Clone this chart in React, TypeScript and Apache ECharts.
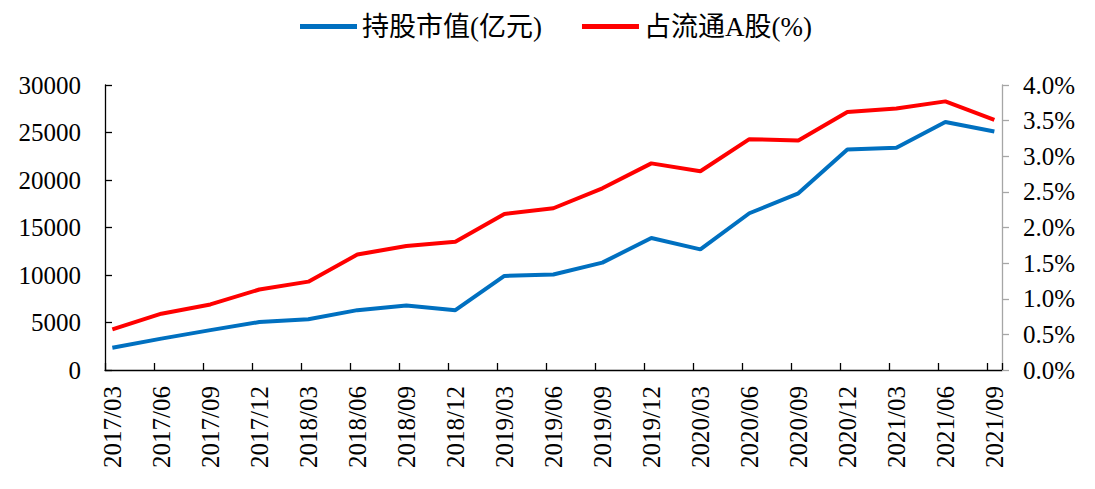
import React, { useEffect, useRef } from "react";
import * as echarts from "echarts";

const categories = [
  "2017/03", "2017/06", "2017/09", "2017/12",
  "2018/03", "2018/06", "2018/09", "2018/12",
  "2019/03", "2019/06", "2019/09", "2019/12",
  "2020/03", "2020/06", "2020/09", "2020/12",
  "2021/03", "2021/06", "2021/09",
];
const marketValue = [
  2350, 3300, 4200, 5050, 5350, 6300, 6800, 6300, 9900, 10050,
  11300, 13900, 12700, 16500, 18600, 23200, 23400, 26100, 25100,
];
const sharePct = [
  0.57, 0.79, 0.92, 1.13, 1.24, 1.62, 1.74, 1.8, 2.19, 2.27,
  2.55, 2.9, 2.79, 3.24, 3.22, 3.62, 3.67, 3.77, 3.51,
];
const seriesNames = ["持股市值(亿元)", "占流通A股(%)"];

const TICK_SHIFT = 0.15;
const FONT = "'Liberation Serif', 'Times New Roman', 'Noto Sans CJK SC', serif";

export default function App() {
  const ref = useRef<HTMLDivElement>(null);
  useEffect(() => {
    if (!ref.current) return;
    const chart = echarts.init(ref.current, undefined, { renderer: "svg" });
    const lastIdx = categories.length - 1;
    const xMin = -TICK_SHIFT;
    const xMax = lastIdx + 0.156;
    chart.setOption({
      animation: false,
      backgroundColor: "#fff",
      legend: {
        left: 295,
        top: 8,
        itemWidth: 57,
        itemHeight: 5,
        itemGap: 40,
        textStyle: { fontSize: 27, fontFamily: FONT, color: "#000" },
        data: [
          { name: seriesNames[0], icon: "rect" },
          { name: seriesNames[1], icon: "rect" },
        ],
      },
      grid: { left: 105, right: 93, top: 85, bottom: 119, containLabel: false },
      xAxis: [
        {
          type: "value",
          position: "bottom",
          min: xMin,
          max: xMax,
          interval: 1,
          axisLine: { show: true, onZero: false, lineStyle: { color: "#000", width: 1.3 } },
          axisTick: { show: true, inside: true, length: 7, lineStyle: { color: "#000", width: 1.3 } },
          splitLine: { show: false },
          axisLabel: { show: false },
        },
        {
          type: "value",
          position: "bottom",
          min: xMin,
          max: xMax,
          minInterval: 1,
          maxInterval: 1,
          axisLine: { show: false, onZero: false },
          axisTick: { show: false },
          splitLine: { show: false },
          axisLabel: {
            rotate: 90,
            margin: 16,
            fontSize: 25,
            fontFamily: FONT,
            color: "#000",
            showMinLabel: true,
            showMaxLabel: true,
            formatter: (v: number) => {
              const i = Math.round(v);
              if (Math.abs(v - i) > 0.01) return "";
              return categories[i] ?? "";
            },
          },
        },
      ],
      yAxis: [
        {
          type: "value",
          position: "left",
          min: 0,
          max: 30000,
          interval: 5000,
          axisLine: { show: true, onZero: false, lineStyle: { color: "#000", width: 1.3 } },
          axisTick: { show: true, inside: true, length: 7, lineStyle: { color: "#000", width: 1.3 } },
          splitLine: { show: false },
          axisLabel: {
            margin: 24,
            fontSize: 25,
            fontFamily: FONT,
            color: "#000",
            formatter: (v: number) => String(v),
          },
        },
        {
          type: "value",
          min: 0,
          max: 4,
          interval: 0.5,
          position: "right",
          axisLine: { show: true, onZero: false, lineStyle: { color: "#A6A6A6", width: 1.3 } },
          axisTick: { show: true, inside: false, length: 7, lineStyle: { color: "#A6A6A6", width: 1.3 } },
          splitLine: { show: false },
          axisLabel: {
            margin: 21,
            fontSize: 25,
            fontFamily: FONT,
            color: "#000",
            formatter: (v: number) => v.toFixed(1) + "%",
          },
        },
      ],
      series: [
        {
          name: seriesNames[0],
          type: "line",
          xAxisIndex: 0,
          yAxisIndex: 0,
          symbol: "none",
          color: "#0070C0",
          lineStyle: { width: 4, color: "#0070C0" },
          data: marketValue.map((v, i) => [i, v]),
        },
        {
          name: seriesNames[1],
          type: "line",
          xAxisIndex: 0,
          yAxisIndex: 1,
          symbol: "none",
          color: "#FF0000",
          lineStyle: { width: 4, color: "#FF0000" },
          data: sharePct.map((v, i) => [i, v]),
        },
      ],
    });
    return () => chart.dispose();
  }, []);
  return (
    <div
      ref={ref}
      style={{ position: "fixed", left: 0, top: 0, width: 1095, height: 489, background: "#fff" }}
    />
  );
}
